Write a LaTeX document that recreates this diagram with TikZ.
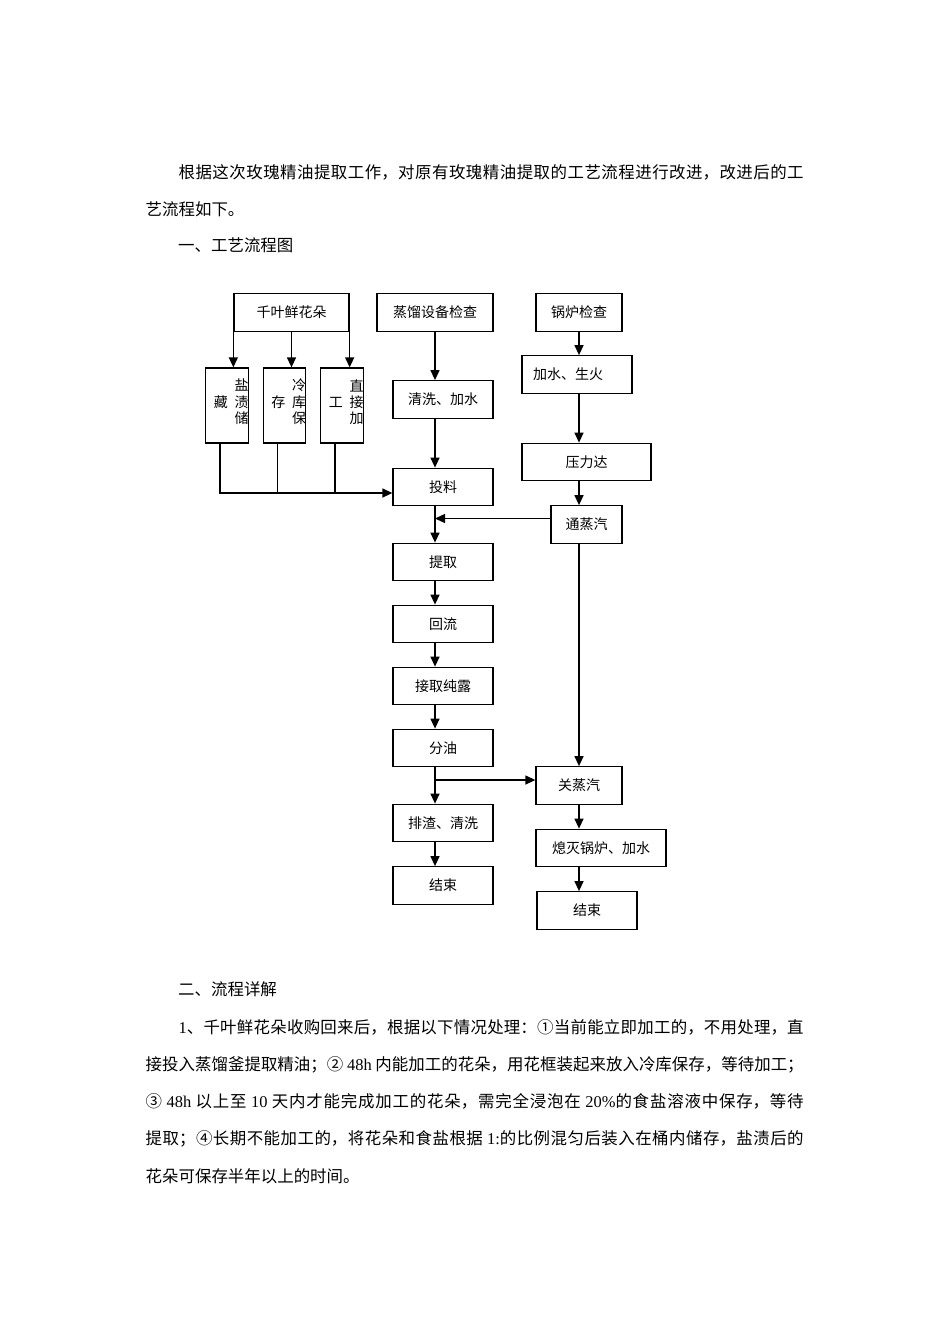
\documentclass[tikz,border=0pt]{standalone}
\usepackage{fontspec}
\setmainfont{Noto Sans CJK SC}
\newfontfamily\latin{Liberation Serif}
\usetikzlibrary{arrows.meta, calc}

\XeTeXlinebreaklocale "zh"
\XeTeXlinebreakskip = 0pt plus 2pt minus 0.5pt

% vertical text in the narrow storage boxes
\newcommand\vcol[4]{\makebox[0pt]{\hspace*{8.6pt}\raisebox{-1.9pt}[0pt][0pt]{%
  \begin{tabular}{@{}c@{\hspace{6.7pt}}c@{}}&#1\\#4&#2\\&#3\end{tabular}}}}

\begin{document}
\begin{tikzpicture}[
  x=1pt, y=-1pt,
  ln/.style={line width=1.3pt},
  mod/.style={rectangle, draw, ln, inner sep=0pt, minimum height=37.5pt,
              font=\fontsize{14}{16}\selectfont},
  col/.style={mod, minimum width=42.5pt, minimum height=75pt,
              font=\fontsize{14}{15.5}\selectfont},
  arr/.style={ln, -{Triangle[length=10pt,width=9pt]}},
  para/.style={anchor=base west, inner sep=0pt,
               font=\fontsize{16.45}{37.2}\selectfont},
]
  \path[fill=white] (0,0) rectangle (950,1344);
  \useasboundingbox (0,0) rectangle (950,1344);

  %% Text above the chart
  \node[para] (intro) at (145.5,178.7) {\parbox[t]{658pt}{\hspace*{2em}根据这次玫瑰精油提取工作，对原有玫瑰精油提取的工艺流程进行改进，改进后的工\linebreak
    艺流程如下。}};
  \node[para] (head1) at (178,251.2) {一、工艺流程图};

  %% Flowers and storage
  \node[mod, minimum width=115pt] (flower) at (291.5,312.5) {千叶鲜花朵};
  \node[col] (salt)   at (227,405.5) {\vcol{盐}{渍}{储}{藏}};
  \node[col] (cold)   at (284.5,405.5) {\vcol{冷}{库}{保}{存}};
  \node[col] (direct) at (342,405.5) {\vcol{直}{接}{加}{工}};

  \draw[arr] (flower.south west) -- (flower.south west |- salt.north);
  \draw[arr] (flower.south) -- (flower.south |- cold.north);
  \draw[arr] (flower.south east) -- (flower.south east |- direct.north);

  %% Distillation line
  \node[mod, minimum width=116pt] (check)    at (435,312.5) {蒸馏设备检查};
  \node[mod, minimum width=100pt] (wash)     at (443,399.5) {清洗、加水};
  \node[mod, minimum width=100pt] (load)     at (443,487)   {投料};
  \node[mod, minimum width=100pt] (extract)  at (443,562)   {提取};
  \node[mod, minimum width=100pt] (reflux)   at (443,624)   {回流};
  \node[mod, minimum width=100pt] (hydrosol) at (443,686)   {接取纯露};
  \node[mod, minimum width=100pt] (oil)      at (443,748)   {分油};
  \node[mod, minimum width=100pt] (drain)    at (443,823)   {排渣、清洗};
  \node[mod, minimum width=100pt] (endL)     at (443,885.5) {结束};

  \draw[arr] (check.south) -- (check.south |- wash.north);
  \draw[arr] (check.south |- wash.south) -- (check.south |- load.north);
  \draw[arr] (check.south |- load.south) -- (check.south |- extract.north);
  \draw[arr] (check.south |- extract.south) -- (check.south |- reflux.north);
  \draw[arr] (check.south |- reflux.south) -- (check.south |- hydrosol.north);
  \draw[arr] (check.south |- hydrosol.south) -- (check.south |- oil.north);
  \draw[arr] (check.south |- oil.south) -- (check.south |- drain.north);
  \draw[arr] (check.south |- drain.south) -- (check.south |- endL.north);

  \coordinate (merge) at ($(load.west)+(0,6)$);
  \coordinate (s1) at ($(salt.south)+(-7,0)$);
  \coordinate (s2) at ($(cold.south)+(-7,0)$);
  \coordinate (s3) at ($(direct.south)+(-7,0)$);
  \draw[arr] (s1) |- (merge);
  \draw[ln] (s2) -- (s2 |- merge);
  \draw[ln] (s3) -- (s3 |- merge);

  %% Boiler line
  \node[mod, minimum width=86pt]  (boiler) at (579,312.5) {锅炉检查};
  \node[mod, minimum width=110pt] (fire)   at (577,374.5) {加水、生火\hspace*{18pt}};
  \node[mod, minimum width=129pt] (press)  at (586.5,462) {压力达};
  \node[mod, minimum width=71pt]  (steam)  at (586.5,524.5) {通蒸汽};
  \node[mod, minimum width=86pt]  (stop)   at (579,785.5) {关蒸汽};
  \node[mod, minimum width=130pt] (quench) at (601,848)   {熄灭锅炉、加水};
  \node[mod, minimum width=100pt] (endR)   at (587,910.5) {结束};

  \draw[arr] (boiler.south) -- (boiler.south |- fire.north);
  \draw[arr] (boiler.south |- fire.south) -- (boiler.south |- press.north);
  \draw[arr] (boiler.south |- press.south) -- (boiler.south |- steam.north);
  \draw[arr] (boiler.south |- steam.south) -- (boiler.south |- stop.north);
  \draw[arr] (boiler.south |- stop.south) -- (boiler.south |- quench.north);
  \draw[arr] (boiler.south |- quench.south) -- (boiler.south |- endR.north);

  \coordinate (feed) at ($(steam.west)+(0,-6)$);
  \draw[arr] (feed) -- (feed -| check.south);
  \coordinate (split) at ($(stop.west)+(0,-5.5)$);
  \draw[arr] (split -| check.south) -- (split);

  %% Text below the chart
  \node[para] (head2) at (178,995.2) {二、流程详解};
  \node[para] (detail) at (145.5,1033.2) {\parbox[t]{658pt}{\hspace*{2em}{\latin 1}、千叶鲜花朵收购回来后，根据以下情况处理：①当前能立即加工的，不用处理，直\linebreak
    接投入蒸馏釜提取精油；② {\latin 48h} 内能加工的花朵，用花框装起来放入冷库保存，等待加工；\linebreak
    ③ {\latin 48h} 以上至 {\latin 10} 天内才能完成加工的花朵，需完全浸泡在 {\latin 20\%}的食盐溶液中保存，等待\linebreak
    提取；④长期不能加工的，将花朵和食盐根据 {\latin 1:}的比例混匀后装入在桶内储存，盐渍后的\linebreak
    花朵可保存半年以上的时间。}};
\end{tikzpicture}
\end{document}
